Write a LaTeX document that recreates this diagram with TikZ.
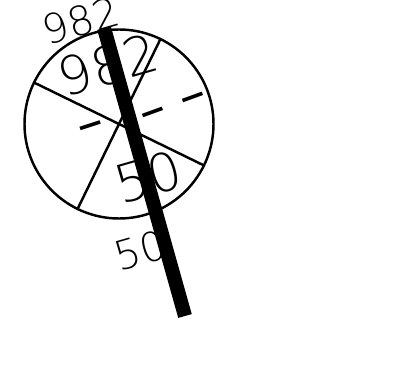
\documentclass[tikz,border=0pt]{standalone}
\usepackage{fontspec}
\newfontfamily\thinfont{DejaVu Sans ExtraLight}
\newfontfamily\dashfont{DejaVu Sans}
\usepackage{tikz}
\tikzset{>=stealth}
\tikzset{lbl/.style={font=\thinfont, inner sep=0pt, rotate=16},
  rim/.style={line width=1.4pt}}
\newcommand{\bigsz}{\fontsize{30}{30}\selectfont}
\newcommand{\smallsz}{\fontsize{23}{23}\selectfont}
\newcommand{\wheel}{%
  \draw[rim] (c) circle (1.89);
  \draw[rim] (c) -- +(154:1.89);
  \draw[rim] (c) -- +(-26:1.89);
  \draw[rim] (c) -- +(64:1.89);
  \draw[rim] (c) -- +(244:1.89);
}
\newcommand{\pin}{%
  \draw[line width=8pt] (pintop) -- (pinbot);
}

\begin{document}
\begin{tikzpicture}
\useasboundingbox (0,0) rectangle (8,7.82);
\coordinate (c) at (2.38,5.34);
\coordinate (pintop) at (2.08,7.26);
\coordinate (pinbot) at (3.70,1.50);
\wheel
\node[lbl] (outtop) at (1.62,7.40) {\smallsz 982};
\node[lbl] (intop) at (2.16,6.52) {\bigsz 982};
\node[lbl] (inbot) at (2.96,4.28) {\bigsz 50};
\node[lbl] (outbot) at (2.80,2.82) {\smallsz 50};
\node[lbl,rotate=2] (dl) at (1.86,5.18) {\dashfont\bigsz –};
\node[lbl,rotate=4] (dr) at (3.50,5.60) {\dashfont\bigsz – –};
\pin
\end{tikzpicture}
\end{document}
